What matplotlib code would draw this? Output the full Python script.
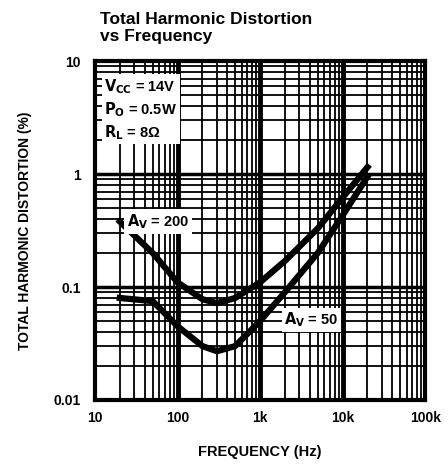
import matplotlib.pyplot as plt
import numpy as np

plt.rcParams['font.family'] = ['Liberation Sans', 'DejaVu Sans']
plt.rcParams['font.weight'] = 'bold'
plt.rcParams['axes.labelweight'] = 'bold'

# --- Data ---
freq_hz = [20, 50, 100, 200, 300, 500, 1000, 2000, 5000, 10000, 20000]
thd_av200 = [0.38, 0.2, 0.11, 0.078, 0.072, 0.08, 0.11, 0.17, 0.33, 0.62, 1.15]
thd_av50 = [0.08, 0.075, 0.045, 0.03, 0.027, 0.03, 0.05, 0.09, 0.2, 0.43, 0.95]

x_ticks = [10, 100, 1000, 10000, 100000]
x_ticklabels = ['10', '100', '1k', '10k', '100k']
y_ticks = [0.01, 0.1, 1, 10]
y_ticklabels = ['0.01', '0.1', '1', '10']

fig = plt.figure(figsize=(4.48, 4.70), dpi=100)
ax = fig.add_axes([0.212, 0.149, 0.737, 0.721])
ax.set_xscale('log')
ax.set_yscale('log')
ax.set_xlim(10, 100000)
ax.set_ylim(0.01, 10)

# grid: heavy decade lines, lighter minor lines like the printed chart
for d in [100, 1000, 10000]:
    ax.axvline(d, color='black', lw=3.5, zorder=1)
for d in [0.1, 1]:
    ax.axhline(d, color='black', lw=2.5, zorder=1)
ax.grid(which='minor', color='black', lw=1.3, zorder=1)
ax.set_axisbelow(True)

ax.plot(freq_hz, thd_av200, color='black', lw=4.5, zorder=3)
ax.plot(freq_hz, thd_av50, color='black', lw=4.5, zorder=3)

for s in ax.spines.values():
    s.set_linewidth(3)

ax.set_xticks(x_ticks)
ax.set_xticklabels(x_ticklabels)
ax.set_yticks(y_ticks)
ax.set_yticklabels(y_ticklabels)
ax.tick_params(which='both', length=0, labelsize=10, pad=8)
ax.tick_params(axis='y', pad=10)

box = dict(facecolor='white', edgecolor='none', pad=2)
ax.text(13, 7.2, '$\\mathbf{V_{CC}}$ = 14V\n$\\mathbf{P_O}$ = 0.5W\n$\\mathbf{R_L}$ = 8\u03a9',
        fontsize=10.5, va='top', ha='left', bbox=box, zorder=4, linespacing=1.3)
ax.text(58, 0.38, '$\\mathbf{A_V}$ = 200', fontsize=10.5, ha='center', va='center',
        bbox=box, zorder=4)
ax.text(4200, 0.051, '$\\mathbf{A_V}$ = 50', fontsize=10.5, ha='center', va='center',
        bbox=box, zorder=4)

ax.set_xlabel('FREQUENCY (Hz)', fontsize=10.5, labelpad=14)
ax.set_ylabel('TOTAL HARMONIC DISTORTION (%)', fontsize=10, labelpad=16)
fig.text(0.223, 0.975, 'Total Harmonic Distortion\nvs Frequency', fontsize=12.5,
         fontweight='bold', va='top', ha='left', linespacing=1.2)

fig.savefig('out.png', dpi=100)
